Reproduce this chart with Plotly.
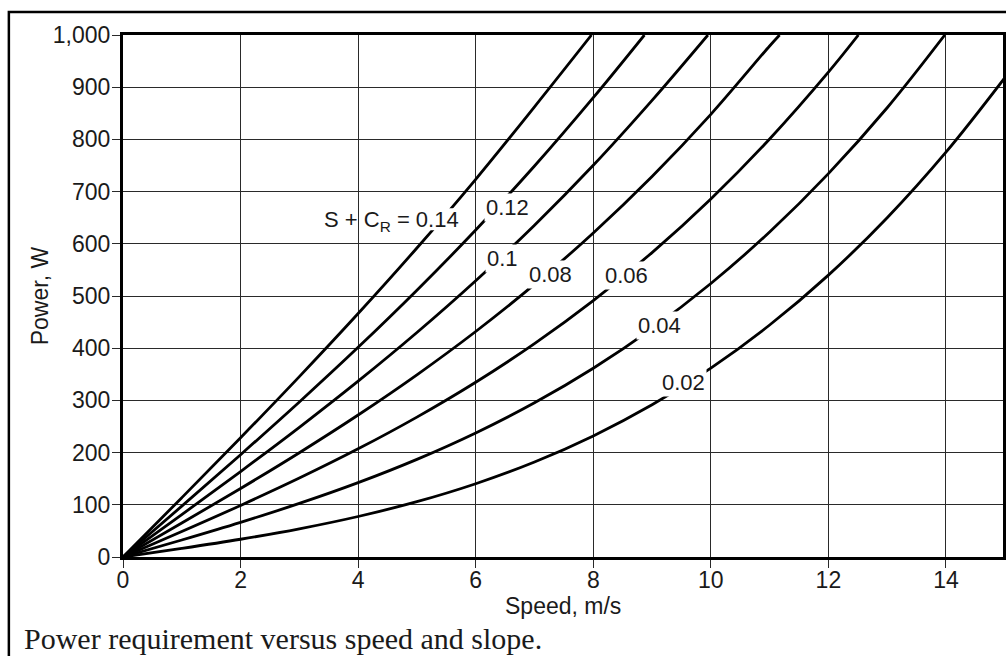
import plotly.graph_objects as go

# ---- data (speed m/s -> power W) ----
speed_014 = [0, 1, 2, 3, 4, 5, 6, 7, 7.97]
power_014 = [0, 113.6, 228.4, 345.6, 466.4, 592, 723.6, 862.4, 1000]

speed_012 = [0, 1, 2, 3, 4, 5, 6, 7, 8, 8.87]
power_012 = [0, 97.4, 196, 297, 401.6, 511, 626.4, 749, 880, 1000]

speed_010 = [0, 1, 2, 3, 4, 5, 6, 7, 8, 9, 9.95]
power_010 = [0, 81.2, 163.6, 248.4, 336.8, 430, 529.2, 635.6, 750.4, 874.8, 1000]

speed_008 = [0, 1, 2, 3, 4, 5, 6, 7, 8, 9, 10, 11, 11.17]
power_008 = [0, 65, 131.2, 199.8, 272, 349, 432, 522.2, 620.8, 729, 848, 979, 1000]

speed_006 = [0, 1, 2, 3, 4, 5, 6, 7, 8, 9, 10, 11, 12, 12.51]
power_006 = [0, 48.8, 98.8, 151.2, 207.2, 268, 334.8, 408.8, 491.2, 583.2, 686, 800.8, 928.8, 1000]

speed_004 = [0, 1, 2, 3, 4, 5, 6, 7, 8, 9, 10, 11, 12, 13, 13.98]
power_004 = [0, 32.6, 66.4, 102.6, 142.4, 187, 237.6, 295.4, 361.6, 437.4, 524, 622.6, 734.4, 860.6, 1000]

speed_002 = [0, 1, 2, 3, 4, 5, 6, 7, 8, 9, 10, 11, 12, 13, 14, 15]
power_002 = [0, 16.4, 34, 54, 77.6, 106, 140.4, 182, 232, 291.6, 362, 444.4, 540, 650, 775.6, 918]

curves = [
    (speed_014, power_014), (speed_012, power_012), (speed_010, power_010),
    (speed_008, power_008), (speed_006, power_006), (speed_004, power_004),
    (speed_002, power_002),
]

# curve labels: text, x (speed), y (power)
label_text = ["0.12", "0.1", "0.08", "0.06", "0.04", "0.02"]
label_x = [6.545, 6.46, 7.274, 8.562, 9.122, 9.529]
label_y = [670.5, 570.9, 542.1, 540.2, 444.4, 335.2]
main_label = "S + C<sub>R</sub> = 0.14"
main_label_x = 4.569
main_label_y = 643.7

x_ticks = [0, 2, 4, 6, 8, 10, 12, 14]
y_ticks = [0, 100, 200, 300, 400, 500, 600, 700, 800, 900, 1000]

FONT = "Liberation Sans, Arial, sans-serif"
TXT = "#1a1a1a"

fig = go.Figure()
for sx, py in curves:
    fig.add_trace(go.Scatter(x=sx, y=py, mode="lines", line=dict(color="black", width=2.8, shape="spline"),
                             hoverinfo="skip", showlegend=False))

axis_common = dict(showgrid=True, gridcolor="#2a2a2a", gridwidth=1.4, zeroline=False,
                   showline=True, linecolor="black", linewidth=3, mirror=True,
                   ticks="outside", ticklen=8, tickwidth=1.4, tickcolor="#2a2a2a",
                   tickfont=dict(family=FONT, size=23, color=TXT))

fig.update_xaxes(range=[0, 14.97], tickvals=x_ticks, ticklabelstandoff=-8, **axis_common)
fig.update_yaxes(range=[0, 1000], tickvals=y_ticks, tickformat=",", ticklabelstandoff=-3, **axis_common)

annotations = []
for t, x, y in zip(label_text, label_x, label_y):
    annotations.append(dict(x=x, y=y, xref="x", yref="y", text=t, showarrow=False,
                            font=dict(family=FONT, size=22, color=TXT), bgcolor="white", borderpad=1))
annotations.append(dict(x=main_label_x, y=main_label_y, xref="x", yref="y", text=main_label,
                        showarrow=False, font=dict(family=FONT, size=22, color=TXT)))
annotations.append(dict(x=0.5, y=-0.094, xref="paper", yref="paper", text="Speed, m/s", showarrow=False,
                        font=dict(family=FONT, size=23, color=TXT), xanchor="center", yanchor="middle"))
annotations.append(dict(x=-0.094, y=0.5, xref="paper", yref="paper", text="Power, W", showarrow=False,
                        textangle=-90, font=dict(family=FONT, size=23, color=TXT),
                        xanchor="center", yanchor="middle"))
annotations.append(dict(x=-0.1144, y=-0.157, xref="paper", yref="paper",
                        text="Power requirement versus speed and slope.", showarrow=False,
                        font=dict(family="Liberation Serif, Times New Roman, serif", size=30, color=TXT),
                        xanchor="left", yanchor="middle"))

shapes = [
    # outer figure frame
    dict(type="rect", xref="paper", yref="paper", x0=-0.1297, x1=1.1, y0=-0.4, y1=1.044,
         line=dict(color="black", width=2.5), fillcolor="rgba(0,0,0,0)", layer="below"),
    # gap in the 0.14 curve behind its label
    dict(type="rect", xref="x", yref="y", x0=5.12, x1=5.68, y0=626, y1=668,
         line=dict(width=0), fillcolor="white", layer="above"),
]

fig.update_layout(width=1006, height=656, margin=dict(l=123, r=0, t=35, b=99),
                  paper_bgcolor="white", plot_bgcolor="white",
                  annotations=annotations, shapes=shapes, showlegend=False)

fig.write_html("out.html")
